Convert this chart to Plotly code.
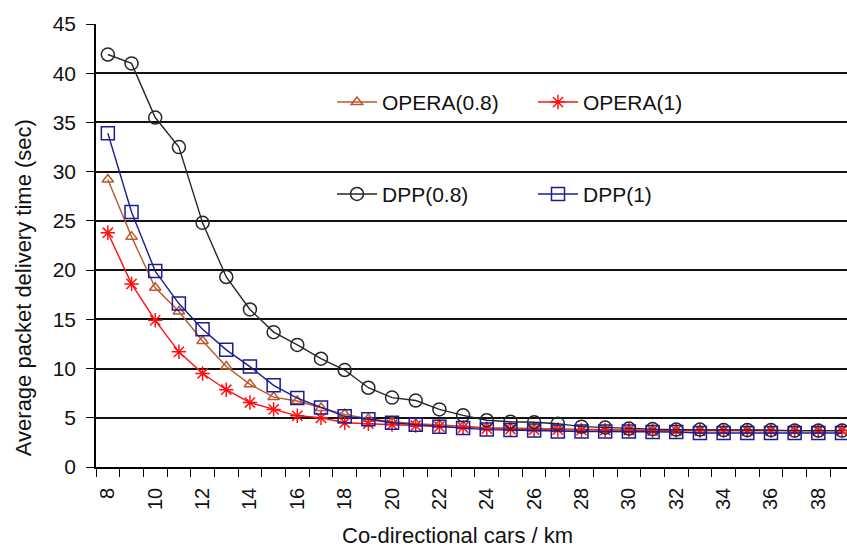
import plotly.graph_objects as go

# Co-directional car density (cars / km)
cars = list(range(8, 40))

# Average packet delivery time (sec) per scheme
opera_08 = [29.2, 23.4, 18.2, 15.8, 12.8, 10.2, 8.4, 7.1, 6.7, 6.0, 5.35, 4.9, 4.6, 4.4, 4.3, 4.15,
            4.0, 3.95, 3.9, 3.85, 3.8, 3.8, 3.75, 3.75, 3.7, 3.7, 3.7, 3.7, 3.7, 3.7, 3.7, 3.7]
opera_1 = [23.8, 18.6, 14.9, 11.7, 9.5, 7.85, 6.55, 5.85, 5.2, 5.0, 4.5, 4.4, 4.3, 4.2, 4.1, 4.0,
           3.9, 3.85, 3.8, 3.8, 3.75, 3.75, 3.75, 3.7, 3.7, 3.7, 3.7, 3.7, 3.7, 3.7, 3.7, 3.7]
dpp_08 = [41.9, 41.0, 35.5, 32.5, 24.8, 19.3, 16.0, 13.7, 12.4, 11.0, 9.85, 8.05, 7.05, 6.75, 5.85, 5.25,
          4.75, 4.6, 4.55, 4.4, 4.1, 4.0, 3.9, 3.85, 3.8, 3.8, 3.75, 3.75, 3.75, 3.7, 3.7, 3.7]
dpp_1 = [33.9, 25.9, 19.9, 16.6, 14.0, 11.9, 10.2, 8.3, 7.0, 6.05, 5.15, 4.85, 4.5, 4.3, 4.1, 3.95,
         3.8, 3.75, 3.7, 3.6, 3.6, 3.6, 3.6, 3.55, 3.55, 3.45, 3.45, 3.45, 3.45, 3.45, 3.45, 3.45]

x_tick_labels = [str(v) for v in range(8, 40, 2)]
y_ticks = list(range(0, 50, 5))

FONT = "Liberation Sans, Arial, sans-serif"

# plot area geometry in pixels
PLOT_L, PLOT_T, PLOT_B, PLOT_W = 96, 23.5, 467, 751
PLOT_H = PLOT_B - PLOT_T

fig = go.Figure()

series = [
    ("OPERA(0.8)", opera_08, "#b85a2a", "triangle-up-open", 10, "legend"),
    ("OPERA(1)", opera_1, "#ff1010", "asterisk-open", 12, "legend"),
    ("DPP(0.8)", dpp_08, "#262626", "circle-open", 13, "legend2"),
    ("DPP(1)", dpp_1, "#1c1c96", "square-open", 13, "legend2"),
]
for name, vals, color, symbol, size, leg in series:
    fig.add_trace(go.Scatter(
        x=cars, y=vals, name=name, mode="lines+markers",
        line=dict(color=color, width=1.4),
        marker=dict(symbol=symbol, size=size, color=color, line=dict(color=color, width=1.5)),
        legend=leg,
    ))

legend_style = dict(
    orientation="h", xref="paper", yref="paper", xanchor="left", yanchor="middle",
    bgcolor="rgba(0,0,0,0)", font=dict(family=FONT, size=21, color="#111"),
    entrywidth=146, entrywidthmode="pixels", itemwidth=40,
)

fig.update_layout(
    width=847, height=549,
    margin=dict(l=PLOT_L, r=0, t=PLOT_T, b=549 - PLOT_B, autoexpand=False),
    paper_bgcolor="white", plot_bgcolor="white",
    font=dict(family=FONT, size=21, color="#111"),
    showlegend=True,
    legend=dict(x=(332 - PLOT_L) / PLOT_W, y=(PLOT_B - 102) / PLOT_H, **legend_style),
    legend2=dict(x=(332 - PLOT_L) / PLOT_W, y=(PLOT_B - 194) / PLOT_H, **legend_style),
    xaxis=dict(
        range=[7.5, 39.21], tickmode="array", tickvals=list(range(8, 40, 2)), ticktext=x_tick_labels,
        ticks="", tickangle=-90, showgrid=False, zeroline=False,
        showline=True, linecolor="black", linewidth=1.6,
        minor=dict(tick0=7.5, dtick=1, ticks="outside", ticklen=8, tickcolor="black", tickwidth=1.4,
                   showgrid=False),
        tickfont=dict(family=FONT, size=20, color="#111"),
        ticklabelstandoff=11,
    ),
    yaxis=dict(
        range=[0, 45], tickmode="array", tickvals=y_ticks,
        ticks="outside", ticklen=8, tickcolor="black", tickwidth=1.4,
        showgrid=True, gridcolor="#111", gridwidth=1.6, zeroline=False,
        showline=True, linecolor="black", linewidth=1.6,
        tickfont=dict(family=FONT, size=21, color="#111"),
        ticklabelstandoff=6,
    ),
    annotations=[
        dict(text="Average packet delivery time (sec)", xref="paper", yref="paper",
             x=(23 - PLOT_L) / PLOT_W, y=(PLOT_B - 288) / PLOT_H, textangle=-90,
             showarrow=False, xanchor="center", yanchor="middle",
             font=dict(family=FONT, size=22, color="#111")),
        dict(text="Co-directional cars / km", xref="paper", yref="paper",
             x=(457.5 - PLOT_L) / PLOT_W, y=-(536 - PLOT_B) / PLOT_H,
             showarrow=False, xanchor="center", yanchor="middle",
             font=dict(family=FONT, size=22, color="#111")),
    ],
)

fig.write_html("out.html")
